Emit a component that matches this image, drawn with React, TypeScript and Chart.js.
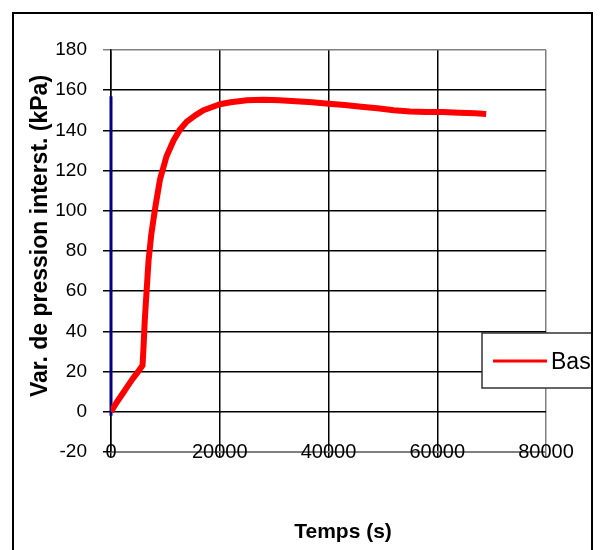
import React, { useEffect, useRef } from "react";
import { Chart, registerables } from "chart.js";

Chart.register(...registerables);

// Pore-pressure variation at the "Bas" sensor versus time
const timeSeconds = [
  0, 1000, 2000, 3000, 4000, 5000, 5800, 6000, 6200, 6500, 6900, 7400, 8100,
  9000, 10200, 11500, 12700, 14000, 15500, 17000, 18500, 20000, 22000, 25000,
  28000, 31000, 34000, 37000, 40000, 43000, 46000, 49000, 52000, 55000, 58000,
  61000, 64000, 67000, 69000,
];
const pressureBas = [
  0, 4.5, 8.5, 12.5, 16.5, 20, 23, 33, 45, 58, 75, 88, 101, 115.5, 127, 135,
  140.5, 144.5, 147.5, 150, 151.5, 153, 154, 155, 155.2, 155, 154.5, 154, 153.3,
  152.6, 151.8, 151, 150, 149.4, 149.2, 149.1, 148.8, 148.5, 148.2,
];

// Vertical reference trace at t = 0
const markerTime = [0, 0];
const markerPressure = [-2, 157];

const xTicks = [0, 20000, 40000, 60000, 80000];
const yTicks = [-20, 0, 20, 40, 60, 80, 100, 120, 140, 160, 180];

const seriesLabel = "Bas";
const xTitle = "Temps (s)";
const yTitle = "Var. de pression interst. (kPa)";

const FONT = "'Liberation Sans', Arial, sans-serif";

const decorations = {
  id: "decorations",
  afterDraw(chart: any) {
    const { ctx, chartArea: a } = chart;
    ctx.save();

    // axis titles
    ctx.fillStyle = "#000";
    ctx.textAlign = "center";
    ctx.textBaseline = "alphabetic";
    ctx.font = `bold 21px ${FONT}`;
    ctx.fillText(xTitle, (a.left + a.right) / 2 + 14.5, a.bottom + 86);

    ctx.save();
    ctx.translate(a.left - 64, (a.top + a.bottom) / 2 - 15);
    ctx.rotate(-Math.PI / 2);
    ctx.font = `bold 23px ${FONT}`;
    ctx.fillText(yTitle, 0, 0);
    ctx.restore();

    // legend box
    const ds = chart.data.datasets[0];
    const bx = a.right - 64;
    const by = 333;
    ctx.fillStyle = "#fff";
    ctx.fillRect(bx, by, 110, 55);
    ctx.strokeStyle = "#333";
    ctx.lineWidth = 1.5;
    ctx.strokeRect(bx, by, 110, 55);
    ctx.strokeStyle = ds.borderColor;
    ctx.lineWidth = 3;
    ctx.beginPath();
    ctx.moveTo(bx + 11, by + 28);
    ctx.lineTo(bx + 65, by + 28);
    ctx.stroke();
    ctx.fillStyle = "#000";
    ctx.textAlign = "left";
    ctx.font = `23px ${FONT}`;
    ctx.fillText(ds.label, bx + 69, by + 36);

    // chart frame
    ctx.strokeStyle = "#000";
    ctx.lineWidth = 2;
    ctx.strokeRect(13, 13, 579, 560);

    ctx.restore();
  },
};

export default function App() {
  const canvasRef = useRef<HTMLCanvasElement | null>(null);

  useEffect(() => {
    const canvas = canvasRef.current;
    if (!canvas) return;

    const chart = new Chart(canvas, {
      type: "line",
      data: {
        datasets: [
          {
            label: seriesLabel,
            data: timeSeconds.map((t, i) => ({ x: t, y: pressureBas[i] })),
            borderColor: "#ff0000",
            borderWidth: 6,
            pointRadius: 0,
            tension: 0,
            borderJoinStyle: "round",
          },
          {
            label: "",
            data: markerTime.map((t, i) => ({ x: t, y: markerPressure[i] })),
            borderColor: "#000080",
            borderWidth: 3,
            pointRadius: 0,
            clip: false,
          },
        ],
      },
      options: {
        responsive: false,
        animation: false,
        layout: { padding: { left: 0, top: 50, right: 54, bottom: 0 } },
        plugins: {
          legend: { display: false },
          tooltip: { enabled: false },
          title: { display: false },
        },
        scales: {
          x: {
            type: "linear",
            min: 0,
            max: 80000,
            afterBuildTicks: (s: any) => {
              s.ticks = xTicks.map((v) => ({ value: v }));
            },
            afterFit: (s: any) => {
              s.height = 98;
              // labels sit across the axis line, so don't clip them to the scale box
              s._computeLabelArea = () => undefined;
            },
            grid: {
              color: (c: any) => (c.tick && c.tick.value === 80000 ? "#808080" : "#000"),
              lineWidth: 1.5,
              drawTicks: true,
              tickLength: 5,
            },
            border: { color: "#808080", width: 1.5 },
            ticks: {
              color: "#000",
              padding: -17,
              maxRotation: 0,
              autoSkip: false,
              font: { family: FONT, size: 20 },
              callback: (v: any) => String(v),
            },
          },
          y: {
            type: "linear",
            min: -20,
            max: 180,
            afterBuildTicks: (s: any) => {
              s.ticks = yTicks.map((v) => ({ value: v }));
            },
            afterFit: (s: any) => {
              s.width = 111;
            },
            grid: {
              color: (c: any) => (c.tick && c.tick.value === 180 ? "#808080" : "#000"),
              lineWidth: 1.5,
              drawTicks: true,
              tickLength: 8,
            },
            border: { color: "#000", width: 1.5 },
            ticks: {
              color: "#000",
              padding: 16,
              autoSkip: false,
              font: { family: FONT, size: 19 },
              callback: (v: any) => String(v),
            },
          },
        },
      },
      plugins: [decorations],
    });

    return () => chart.destroy();
  }, []);

  return (
    <div style={{ position: "fixed", left: 0, top: 0, width: 600, height: 550, background: "#fff" }}>
      <canvas ref={canvasRef} width={600} height={550} />
    </div>
  );
}
